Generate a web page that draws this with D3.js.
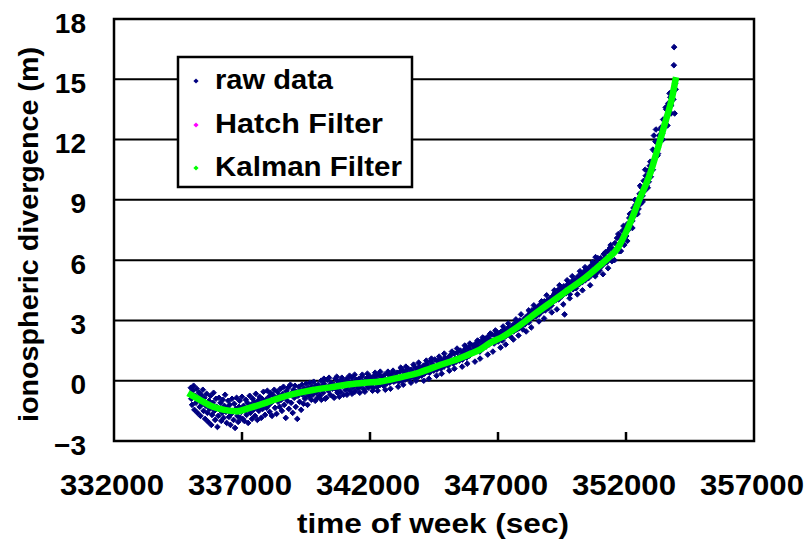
<!DOCTYPE html>
<html>
<head>
<meta charset="utf-8">
<script src="https://cdn.jsdelivr.net/npm/d3@7"></script>
<style>
  html, body { margin: 0; padding: 0; background: #fff; }
  text { font-family: "Liberation Sans", Arial, sans-serif; font-weight: bold; fill: #000; }
</style>
</head>
<body>
<div id="chart"></div>
<script>
// tick values
const xTicks = [332000, 337000, 342000, 347000, 352000, 357000];
const yTicks = [-3, 0, 3, 6, 9, 12, 15, 18];
const legendLabels = ["raw data", "Hatch Filter", "Kalman Filter"];

// Kalman filter output [time of week, divergence]
const kalmanData = [
  [335000, -0.70], [335350, -0.95], [335870, -1.30], [336300, -1.45], [336800, -1.52],
  [337300, -1.35], [337980, -1.08], [338480, -0.85], [339150, -0.62], [339770, -0.46],
  [340500, -0.32], [341200, -0.18], [341800, -0.10], [342400, -0.04], [343170, 0.17],
  [343950, 0.42], [344730, 0.78], [345510, 1.12], [345900, 1.33], [346300, 1.55],
  [346650, 1.85], [347200, 2.20], [347900, 2.80], [348520, 3.40], [349200, 4.02],
  [349810, 4.58], [350300, 5.02], [350900, 5.65], [351300, 6.10], [351650, 6.55],
  [352040, 7.50], [352550, 9.10], [352940, 10.30], [353250, 11.60], [353520, 12.80],
  [353800, 14.10], [353930, 14.95]
];

// Hatch filter output (lies under the Kalman trace)
const hatchData = [
  [335000, -0.72], [335350, -0.97], [335870, -1.31], [336300, -1.46], [336800, -1.51],
  [337300, -1.34], [337980, -1.07], [338480, -0.84], [339150, -0.62], [339770, -0.45],
  [340500, -0.31], [341200, -0.18], [341800, -0.10], [342400, -0.03], [343170, 0.18],
  [343950, 0.43], [344730, 0.78], [345510, 1.12], [345900, 1.34], [346300, 1.56],
  [346650, 1.85], [347200, 2.21], [347900, 2.81], [348520, 3.40], [349200, 4.03],
  [349810, 4.58], [350300, 5.03], [350900, 5.66], [351300, 6.10], [351650, 6.57],
  [352040, 7.52], [352550, 9.10], [352940, 10.32], [353250, 11.60], [353520, 12.82],
  [353800, 14.10], [353930, 14.95]
];

// raw ionospheric divergence samples
const rawData = [
  [335000,-0.35],[335020,-0.9],[335050,-1.2],[335080,-0.5],[335110,-0.25],[335140,-1.45],[335170,-0.75],[335200,-1.1],[335230,-0.4],[335260,-1.6],[335290,-0.95],[335320,-0.6],[335350,-1.3],[335380,-1.75],[335410,-0.7],[335440,-1.15],[335470,-0.45],[335500,-1.5],
  [335530,-0.85],[335560,-1.9],[335590,-1.25],[335620,-0.65],[335650,-1.6],[335680,-2.05],[335710,-1.0],[335740,-1.4],[335770,-0.75],[335800,-2.2],[335830,-1.7],[335860,-1.1],[335890,-0.6],[335920,-1.5],[335950,-1.95],[335980,-0.9],
  [336010,-1.3],[336040,-2.3],[336070,-1.75],[336100,-0.85],[336130,-1.45],[336160,-1.1],[336190,-2.0],[336220,-1.6],[336250,-0.95],[336280,-1.85],[336310,-1.25],[336340,-0.7],[336370,-1.55],[336400,-2.1],[336430,-1.35],[336460,-1.0],[336490,-1.8],
  [336520,-1.2],[336550,-2.2],[336580,-1.65],[336610,-0.9],[336640,-1.5],[336670,-1.95],[336700,-1.15],[336730,-2.35],[336760,-1.4],[336790,-0.85],[336820,-1.75],[336850,-2.05],[336880,-1.3],[336910,-1.0],[336940,-1.85],[336970,-1.55],
  [337000,-0.8],[337030,-1.9],[337060,-1.25],[337090,-2.0],[337120,-1.5],[337150,-0.95],[337180,-1.7],[337210,-1.1],[337240,-2.1],[337270,-1.4],[337300,-0.75],[337330,-1.6],[337360,-1.2],[337390,-1.9],[337420,-0.9],[337450,-1.45],[337480,-1.05],
  [337510,-1.75],[337540,-0.65],[337570,-1.3],[337600,-1.95],[337630,-1.0],[337660,-1.5],[337690,-0.8],[337720,-1.25],[337750,-1.85],[337780,-0.9],[337810,-1.4],[337840,-0.55],[337870,-1.15],[337900,-1.7],[337930,-0.95],[337960,-1.35],
  [337990,-0.5],[338020,-1.25],[338050,-0.8],[338080,-1.55],[338110,-0.6],[338140,-1.1],[338170,-1.75],[338200,-0.7],[338230,-1.0],[338260,-0.45],[338290,-1.35],[338320,-0.85],[338350,-1.65],[338380,-0.55],[338410,-1.05],[338440,-0.75],[338470,-1.3],
  [338500,-0.4],[338530,-0.95],[338560,-1.5],[338590,-0.65],[338620,-0.3],[338650,-1.2],[338680,-0.8],[338710,-1.85],[338740,-0.5],[338770,-1.0],[338800,-0.35],[338830,-1.4],[338860,-0.7],[338890,-0.2],[338920,-1.1],[338950,-0.6],
  [338980,-1.6],[339010,-0.45],[339040,-0.85],[339070,-0.25],[339100,-1.3],[339130,-0.55],[339160,-1.9],[339190,-0.75],[339220,-0.3],[339250,-1.05],[339280,-0.5],[339310,-1.45],[339340,-0.2],[339370,-0.7],[339400,-1.15],[339430,-0.4],[339460,-0.9],
  [339500,-0.15],[339530,-0.65],[339560,-1.2],[339590,-0.35],[339620,-0.8],[339650,-0.1],[339680,-0.55],[339710,-0.95],[339740,-0.3],[339770,-0.7],[339800,-0.05],[339830,-0.5],[339860,-1.0],[339890,-0.25],[339920,-0.6],[339950,-0.85],[339980,-0.2],
  [340010,-0.45],[340050,-0.75],[340090,0.0],[340130,-0.3],[340170,-0.6],[340210,-0.15],[340250,-0.9],[340290,-0.35],[340330,0.05],[340370,-0.5],[340410,-0.25],[340450,-0.7],[340490,-0.1],[340530,-0.4],[340570,-0.8],[340610,-0.2],[340650,0.1],[340690,-0.45],[340730,-0.6],[340770,-0.05],[340810,-0.3],[340850,-0.55],[340890,0.05],[340930,-0.25],[340970,-0.7],
  [341010,-0.1],[341050,-0.45],[341090,0.1],[341130,-0.3],[341170,-0.05],[341210,-0.5],[341250,-0.2],[341290,0.15],[341330,-0.35],[341370,-0.1],[341410,-0.55],[341450,0.05],[341490,-0.25],[341530,-0.4],[341570,0.1],[341610,-0.15],[341650,-0.3],[341690,0.2],[341730,-0.05],[341770,-0.45],[341810,0.0],[341850,-0.2],[341890,0.15],[341930,-0.35],[341970,-0.05],
  [342010,0.2],[342050,-0.25],[342090,0.05],[342130,-0.35],[342170,0.25],[342210,-0.1],[342250,0.1],[342290,-0.3],[342330,0.3],[342370,-0.05],[342410,-0.2],[342450,0.2],[342490,0.0],[342530,-0.25],[342570,0.3],[342610,0.05],[342650,-0.15],[342690,0.35],[342730,0.1],[342770,-0.1],[342810,0.25],[342850,0.0],[342890,0.4],[342930,-0.05],[342970,0.2],
  [343010,0.0],[343050,0.4],[343090,0.15],[343130,-0.05],[343170,0.45],[343210,0.2],[343250,0.0],[343290,0.5],[343330,0.3],[343370,0.05],[343410,0.45],[343450,0.25],[343490,0.6],[343530,0.1],[343570,0.35],[343610,0.55],[343650,0.2],[343690,0.4],[343730,0.15],[343770,0.65],[343810,0.3],[343850,0.5],[343890,0.2],[343930,0.7],[343970,0.4],
  [344010,0.25],[344050,0.6],[344090,0.75],[344130,0.35],[344170,0.55],[344210,0.85],[344250,0.45],[344290,0.7],[344330,0.4],[344370,0.95],[344410,0.6],[344450,0.8],[344490,0.5],[344530,1.05],[344570,0.7],[344610,0.55],[344650,0.95],[344690,0.75],[344730,1.1],[344770,0.6],[344810,0.85],[344850,1.0],[344890,0.7],[344930,1.15],[344970,0.85],
  [345010,1.05],[345050,0.75],[345090,1.2],[345130,0.9],[345170,1.3],[345210,1.0],[345250,0.85],[345290,1.35],[345330,1.1],[345370,0.95],[345410,1.4],[345450,1.15],[345490,1.0],[345530,1.5],[345570,1.25],[345610,1.05],[345650,1.45],[345690,1.3],[345730,1.6],[345770,1.15],[345810,1.4],[345850,1.65],[345890,1.25],[345930,1.5],[345970,1.35],
  [346010,1.75],[346050,1.4],[346090,1.6],[346130,1.85],[346170,1.5],[346210,1.7],[346250,1.95],[346290,1.45],[346330,1.75],[346370,2.0],[346410,1.6],[346450,1.85],[346490,2.1],[346530,1.7],[346570,1.95],[346610,2.2],[346650,1.8],[346690,2.05],[346730,1.9],[346770,2.3],[346810,2.0],[346850,1.85],[346890,2.25],[346930,2.1],[346970,2.4],
  [347010,1.95],[347050,2.3],[347090,2.15],[347130,2.45],[347170,2.0],[347210,2.35],[347250,2.55],[347290,2.2],[347330,2.45],[347370,2.3],[347410,2.65],[347450,2.4],[347490,2.2],[347530,2.6],[347570,2.75],[347610,2.45],[347650,2.65],[347690,2.9],[347730,2.55],[347770,2.8],[347810,2.6],[347850,3.0],[347890,2.7],[347930,2.85],[347970,2.55],
  [348010,3.05],[348050,2.8],[348090,3.15],[348130,2.95],[348170,3.25],[348210,2.9],[348250,3.35],[348290,3.1],[348330,3.5],[348370,3.15],[348410,3.4],[348450,3.6],[348490,3.2],[348530,3.45],[348570,3.7],[348610,3.3],[348650,3.55],[348690,3.85],[348730,3.45],[348770,3.7],[348810,3.95],[348850,3.5],[348890,3.75],[348930,4.0],[348970,3.6],
  [349010,3.85],[349050,4.1],[349090,3.75],[349130,4.2],[349170,3.95],[349210,4.35],[349250,4.0],[349290,4.25],[349330,4.5],[349370,4.05],[349410,4.35],[349450,4.6],[349490,4.2],[349530,4.45],[349570,4.7],[349600,3.3],[349650,4.35],[349690,4.75],[349730,4.5],[349770,4.85],[349810,4.3],[349850,4.65],[349890,4.95],[349930,4.55],[349970,4.8],
  [350010,5.05],[350050,4.6],[350090,4.95],[350130,5.2],[350170,4.8],[350210,5.1],[350250,5.35],[350290,4.9],[350330,5.25],[350370,5.45],[350410,5.0],[350450,5.3],[350490,5.55],[350530,5.1],[350570,5.4],[350610,5.7],[350650,5.25],[350690,5.5],[350730,5.8],[350770,5.3],[350810,6.15],[350850,5.9],[350890,5.4],[350930,5.75],[350970,5.5],
  [351010,6.1],[351050,5.7],[351090,5.95],[351130,6.3],[351170,5.85],[351210,6.15],[351250,5.9],[351290,6.45],[351330,6.05],[351370,6.6],[351410,6.2],[351450,5.95],[351490,6.55],
  [351530,6.4],[351570,6.85],[351610,6.5],[351650,7.1],[351690,6.7],[351730,6.45],[351770,7.2],[351810,6.9],[351850,7.45],[351890,7.0],[351930,6.75],[351970,7.55],
  [352010,7.2],[352050,7.8],[352090,7.5],[352130,8.1],[352170,7.7],[352210,8.35],[352250,7.95],[352290,8.6],[352330,8.2],[352370,8.75],[352410,8.4],[352450,9.0],[352490,8.55],
  [352530,9.3],[352570,8.8],[352610,9.6],[352650,9.2],[352690,9.95],[352730,9.45],[352770,10.2],[352810,9.7],[352850,10.45],[352890,9.9],[352930,10.7],[352970,10.15],
  [353010,10.9],[353050,11.5],[353090,12.2],[353130,11.4],[353170,12.5],[353210,11.9],[353250,11.3],[353290,12.2],[353330,11.9],[353370,12.6],[353410,12.3],[353450,13.0],[353490,12.6],
  [353530,12.9],[353570,13.5],[353610,13.2],[353650,13.8],[353690,13.4],[353730,14.1],[353770,13.7],[353810,14.4],[353850,14.0],[353870,15.7],[353880,16.6],[353900,13.3],[353920,14.8],[353940,14.5],
  // wider outer samples
  [340100,-0.95],[340200,0.1],[340300,-0.85],[340400,0.15],[340600,-0.85],[340700,0.2],[340800,-0.8],[340900,0.15],
  [341100,-0.7],[341200,0.25],[341300,-0.65],[341400,0.3],[341600,-0.6],[341700,0.3],[341800,-0.55],[341900,0.35],
  [342100,-0.5],[342200,0.4],[342300,-0.5],[342400,0.45],[342600,-0.45],[342700,0.45],[342800,-0.4],[342900,0.5],
  [343100,-0.3],[343200,0.65],[343300,-0.2],[343400,0.7],[343600,-0.1],[343700,0.8],[343800,0.0],[343900,0.9],
  [344100,0.0],[344200,1.0],[344300,0.1],[344400,1.1],[344600,0.25],[344700,1.2],[344800,0.35],[344900,1.35],
  [345100,0.5],[345200,1.45],[345300,0.6],[345400,1.6],[345600,0.7],[345700,1.75],[345800,0.85],[345900,1.85],
  [346100,0.95],[346200,2.0],[346300,1.1],[346400,2.15],[346600,1.3],[346700,2.35],[346800,1.45],[346900,2.5],
  [347100,1.65],[347200,2.7],[347300,1.8],[347400,2.85],[347600,2.05],[347700,3.05],[347800,2.25],[347900,3.3],
  [348100,2.45],[348200,3.5],[348300,2.65],[348400,3.75],[348600,2.95],[348700,3.95],[348800,3.1],[348900,4.25],
  [349100,3.4],[349200,4.5],[349300,3.55],[349400,4.75],[349550,3.8],[349700,5.0],[349800,4.1],[349900,5.2],
  [350100,4.3],[350200,5.45],[350300,4.5],[350400,5.65],[350600,4.75],[350700,5.9],[350800,5.2],[350900,6.1],
  [351100,5.3],[351200,6.4],[351300,5.6],[351400,6.75],[351550,6.0],[351700,7.3],[351800,6.45],[351900,7.7],
  [352050,6.95],[352150,8.3],[352250,7.6],[352350,9.0],[352450,8.3],[352550,9.7],[352650,8.9],[352750,10.5],
  [352850,9.6],[352950,10.9],[353050,10.5],[353150,11.9],[353230,11.2],[353350,12.5],[353440,12.0],[353550,13.6],[353620,12.7],[353700,14.3],[353760,13.3]
];

const W = 808, H = 542;
const plot = { left: 114, right: 754, top: 19, bottom: 441 };

const svg = d3.select("#chart").append("svg")
  .attr("width", W)
  .attr("height", H);

const x = d3.scaleLinear()
  .domain([332000, 357000])
  .range([plot.left, plot.right]);

const y = d3.scaleLinear()
  .domain([-3, 18])
  .range([plot.bottom, plot.top]);

// horizontal grid lines
svg.append("g")
  .selectAll("line")
  .data(yTicks.slice(1, -1))
  .join("line")
  .attr("x1", plot.left)
  .attr("x2", plot.right)
  .attr("y1", d => y(d))
  .attr("y2", d => y(d))
  .attr("stroke", "#000")
  .attr("stroke-width", 2);

// small diamond marker
const diamond = s => `M0,${-s}L${s},0L0,${s}L${-s},0Z`;

// raw data
svg.append("g")
  .selectAll("path")
  .data(rawData)
  .join("path")
  .attr("transform", d => `translate(${x(d[0])},${y(d[1])})`)
  .attr("d", diamond(2.8))
  .attr("fill", "#000080")
  .attr("stroke", "#000080")
  .attr("stroke-width", 1);

// hatch filter (hidden under kalman)
const line = d3.line().x(d => x(d[0])).y(d => y(d[1])).curve(d3.curveMonotoneX);

svg.append("path")
  .datum(hatchData)
  .attr("d", line)
  .attr("fill", "none")
  .attr("stroke", "#ff00ff")
  .attr("stroke-width", 4.5);

// kalman filter
svg.append("path")
  .datum(kalmanData)
  .attr("d", line)
  .attr("fill", "none")
  .attr("stroke", "#00ff00")
  .attr("stroke-width", 6.5)
  .attr("stroke-linecap", "square");

svg.append("g")
  .selectAll("path")
  .data(kalmanData)
  .join("path")
  .attr("transform", d => `translate(${x(d[0])},${y(d[1])})`)
  .attr("d", diamond(3.4))
  .attr("fill", "#00ff00");

// x ticks (inside, from bottom)
svg.append("g")
  .selectAll("line")
  .data(xTicks.slice(1, -1))
  .join("line")
  .attr("x1", d => x(d))
  .attr("x2", d => x(d))
  .attr("y1", plot.bottom)
  .attr("y2", plot.bottom - 9)
  .attr("stroke", "#000")
  .attr("stroke-width", 2.5);

// frame
svg.append("rect")
  .attr("x", plot.left)
  .attr("y", plot.top)
  .attr("width", plot.right - plot.left)
  .attr("height", plot.bottom - plot.top)
  .attr("fill", "none")
  .attr("stroke", "#000")
  .attr("stroke-width", 2.5);

// y tick labels
svg.append("g")
  .selectAll("text")
  .data(yTicks)
  .join("text")
  .attr("x", 86)
  .attr("y", d => y(d) + 13.5)
  .attr("text-anchor", "end")
  .style("font-size", "28px")
  .text(d => d < 0 ? "\u2212" + Math.abs(d) : d);

// x tick labels
svg.append("g")
  .selectAll("text")
  .data(xTicks)
  .join("text")
  .attr("x", d => x(d) - 2)
  .attr("y", 495)
  .attr("text-anchor", "middle")
  .attr("textLength", 104)
  .attr("lengthAdjust", "spacingAndGlyphs")
  .style("font-size", "30px")
  .text(d => d);

// axis titles
svg.append("text")
  .attr("x", 433)
  .attr("y", 533)
  .attr("text-anchor", "middle")
  .attr("textLength", 272)
  .attr("lengthAdjust", "spacingAndGlyphs")
  .style("font-size", "27px")
  .text("time of week (sec)");

svg.append("text")
  .attr("transform", "translate(38,234.5) rotate(-90)")
  .attr("text-anchor", "middle")
  .attr("textLength", 375)
  .attr("lengthAdjust", "spacingAndGlyphs")
  .style("font-size", "28px")
  .text("ionospheric divergence (m)");

// legend
const legend = svg.append("g");
legend.append("rect")
  .attr("x", 178)
  .attr("y", 57)
  .attr("width", 234)
  .attr("height", 130)
  .attr("fill", "#fff")
  .attr("stroke", "#000")
  .attr("stroke-width", 2.5);

const legendColors = ["#000080", "#ff00ff", "#00ff00"];
const legendBase = [89, 133, 176];
const legendWidths = [118, 168, 187];

legendLabels.forEach((label, i) => {
  legend.append("path")
    .attr("transform", `translate(196,${legendBase[i] - 8})`)
    .attr("d", diamond(2.6))
    .attr("fill", legendColors[i]);
  legend.append("text")
    .attr("x", 215)
    .attr("y", legendBase[i])
    .attr("textLength", legendWidths[i])
    .attr("lengthAdjust", "spacingAndGlyphs")
    .style("font-size", "27px")
    .text(label);
});
</script>
</body>
</html>
